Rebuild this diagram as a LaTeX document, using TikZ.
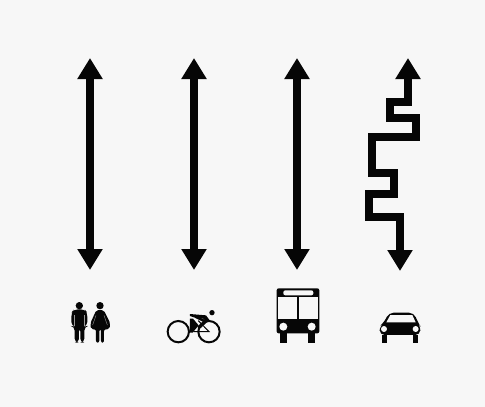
\documentclass[tikz,border=0pt]{standalone}
\usetikzlibrary{arrows.meta}
\definecolor{bg}{HTML}{F7F7F7}
\definecolor{ink}{HTML}{060606}
\tikzset{
  route/.style={draw=ink,line width=7.5pt,line join=miter,{Triangle[width=24pt,length=21pt]}-{Triangle[width=24pt,length=21pt]}},
  zoomA/.style={shift={(50,290)},x=0.3333pt,y=-0.3333pt},
  zoomB/.style={shift={(260,280)},x=0.3333pt,y=-0.3333pt},
  solid ink/.style={fill=ink,draw=none},
  hole/.style={fill=bg,draw=none},
  slit/.style={draw=bg!60!ink,line width=0.4pt}
}
\begin{document}
\begin{tikzpicture}[x=1pt,y=-1pt]
\useasboundingbox (0,0) rectangle (485,407);
\fill[bg] (0,0) rectangle (485,407);
% route end points
\coordinate (a1) at (90,58);  \coordinate (b1) at (90,270);
\coordinate (a2) at (194,58); \coordinate (b2) at (194,270);
\coordinate (a3) at (297,58); \coordinate (b3) at (297,270);
\coordinate (a4) at (408,58); \coordinate (b4) at (400,271);
\draw[route] (a1) -- (b1);
\draw[route] (a2) -- (b2);
\draw[route] (a3) -- (b3);
\draw[route] (a4) -- (408,102) -- (390,102) -- (390,118) -- (416,118) -- (416,137)
  -- (372,137) -- (372,173) -- (394,173) -- (394,194) -- (369,194) -- (369,217) -- (400,217) -- (b4);
% man and woman
\begin{scope}[zoomA]
  \fill[solid ink] (88,47) circle[radius=11];
  \fill[solid ink,rounded corners=4] (64,108) -- (64,68) -- (72,58) -- (104,58) -- (112,68) -- (112,108) -- (103,110)
    -- (103,158) -- (91,158) -- (91,112) -- (87,112) -- (87,158) -- (74,158) -- (74,110) -- cycle;
  \draw[slit] (74,75) -- (74,108);
  \draw[slit] (103,75) -- (103,108);
  \fill[solid ink] (150,47) circle[radius=11];
  \fill[solid ink,rounded corners=2] (139,60) -- (161,60) -- (181,100) -- (178,118) -- (162,118)
    -- (162,158) -- (153,158) -- (153,118) -- (148,118) -- (148,158) -- (138,158) -- (138,118) -- (123,118) -- (121,100) -- cycle;
  \draw[slit] (138,76) -- (128,105);
  \draw[slit] (162,76) -- (172,105);
\end{scope}
% cyclist
\begin{scope}[zoomA]
  \draw[ink,line width=2pt] (385,125) circle[radius=32];
  \draw[ink,line width=2pt] (477,125) circle[radius=32];
  \fill[solid ink] (486,68) circle[radius=8];
  \fill[solid ink] (420,72) -- (468,76) -- (480,92) -- (470,96) -- (460,86) -- (438,84) -- (420,78) -- cycle;
  \fill[solid ink] (440,78) -- (474,94) -- (448,118) -- (442,110) -- (458,95) -- (436,84) -- cycle;
  \fill[solid ink] (420,86) -- (429,86) -- (446,106) -- (428,128) -- (420,128) -- cycle;
  \draw[ink,line width=1pt] (445,92) -- (477,125) -- (430,125);
\end{scope}
% bus
\begin{scope}[zoomB]
  \fill[solid ink,rounded corners=2] (50,25) rectangle (178,160);
  \fill[hole,rounded corners=2] (70,31) rectangle (160,46);
  \fill[hole] (55,51) rectangle (110,117);
  \fill[hole] (116,51) rectangle (173,117);
  \fill[hole] (70,140) circle[radius=12];
  \fill[hole] (155,140) circle[radius=12];
  \fill[solid ink] (60,160) rectangle (80,188);
  \fill[solid ink] (145,160) rectangle (166,188);
\end{scope}
% car
\begin{scope}[zoomB]
  \fill[solid ink,rounded corners=5] (359,165) -- (359,138) -- (372,128) -- (386,98) -- (462,98) -- (474,128) -- (481,138) -- (481,165) -- cycle;
  \fill[hole] (379,127) -- (391,105) -- (457,105) -- (467,127) -- cycle;
  \fill[hole] (372,147) circle[radius=9];
  \fill[hole] (467,147) circle[radius=9];
  \fill[solid ink] (366,165) rectangle (380,188);
  \fill[solid ink] (459,165) rectangle (473,188);
\end{scope}
\end{tikzpicture}
\end{document}
